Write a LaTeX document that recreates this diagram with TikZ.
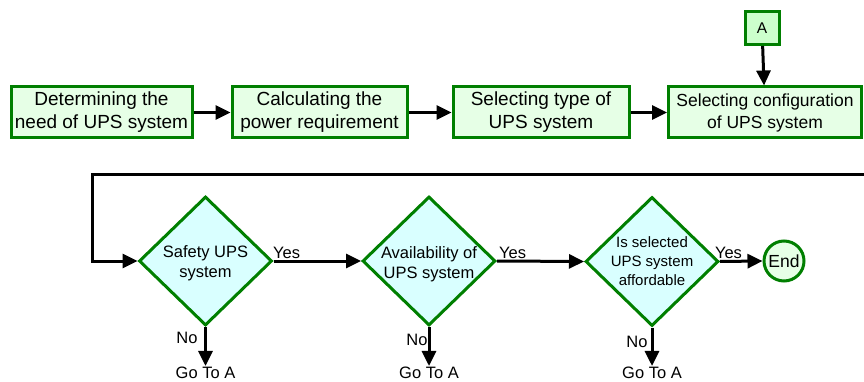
\documentclass[tikz,border=0pt]{standalone}
\usepackage{fontspec}
\setmainfont{Liberation Sans}
\usetikzlibrary{shapes.geometric,arrows.meta}
\definecolor{gborder}{HTML}{007F00}
\definecolor{gfill}{HTML}{E6FFE6}
\definecolor{afill}{HTML}{CCFFCC}
\definecolor{cfill}{HTML}{D9FFFF}
\begin{document}
\begin{tikzpicture}[x=1pt,y=-1pt,
  stepbox/.style={draw=gborder,fill=gfill,line width=3pt,minimum height=51pt,inner sep=0pt,align=center,font=\fontsize{19}{23}\selectfont},
  dia/.style={draw=gborder,fill=cfill,line width=3pt,shape=diamond,minimum width=133pt,minimum height=129pt,inner sep=0pt},
  dtext/.style={align=center,inner sep=0pt},
  lbl/.style={inner sep=1pt,font=\fontsize{16.5}{19}\selectfont},
  arr/.style={line width=3pt,-{Triangle[length=15pt,width=14pt]}},
  ]
\useasboundingbox (0,0) rectangle (864,382);
% top row
\node[stepbox,minimum width=181pt] (b1) at (101.5,112.5) {Determining the\\need of UPS system};
\node[stepbox,minimum width=175pt] (b2) at (319.5,112.5) {Calculating the\\power requirement};
\node[stepbox,minimum width=176pt] (b3) at (541,112.5) {Selecting type of\\UPS system};
\node[stepbox,minimum width=193pt,font=\fontsize{17.5}{22}\selectfont] (b4) at (765,112.5) {Selecting configuration\\of UPS system};
\node[draw=gborder,fill=afill,line width=3pt,minimum width=34pt,minimum height=33pt,inner sep=0pt,font=\fontsize{15.5}{18}\selectfont] (a) at (762,28) {A};
\draw[arr] (b1) -- (b2);
\draw[arr] (b2) -- (b3);
\draw[arr] (b3) -- (b4);
\draw[arr] (a) -- (b4);
% diamonds
\node[dia] (d1) at (205.5,261) {};
\node[dtext,font=\fontsize{16.5}{20}\selectfont] (t1) at (205.5,263) {Safety UPS\\system};
\node[dia] (d2) at (429,261) {};
\node[dtext,font=\fontsize{16.5}{20}\selectfont] (t2) at (429,264) {Availability of\\UPS system};
\node[dia] (d3) at (652,261.5) {};
\node[dtext,font=\fontsize{15}{19}\selectfont] (t3) at (652,261.5) {Is selected\\UPS system\\affordable};
\node[draw=gborder,fill=gfill,line width=3pt,circle,minimum size=40pt,inner sep=0pt,font=\fontsize{17.5}{20}\selectfont] (e) at (784,261) {End};
% loop
\coordinate (r) at (864,175);
\coordinate (lc) at (92,175);
\draw[arr] (r) -- (lc) |- (d1.west);
\draw[arr] (d1.east) -- node[lbl,pos=0.15,above] {Yes} (d2.west);
\draw[arr] (d2.east) -- node[lbl,pos=0.18,above] {Yes} (d3.west);
\draw[arr] (d3.east) -- node[lbl,pos=0.2,above] {Yes} (e.west);
% no branches
\node[lbl] (g1) at (205.5,373) {Go To A};
\node[lbl] (g2) at (429,373) {Go To A};
\node[lbl] (g3) at (652,373) {Go To A};
\draw[arr] (d1.south) -- (g1.north);
\draw[arr] (d2.south) -- (g2.north);
\draw[arr] (d3.south) -- (g3.north);
\node[lbl] (n1) at (187,338) {No};
\node[lbl] (n2) at (417,340) {No};
\node[lbl] (n3) at (637,342) {No};
\end{tikzpicture}
\end{document}
